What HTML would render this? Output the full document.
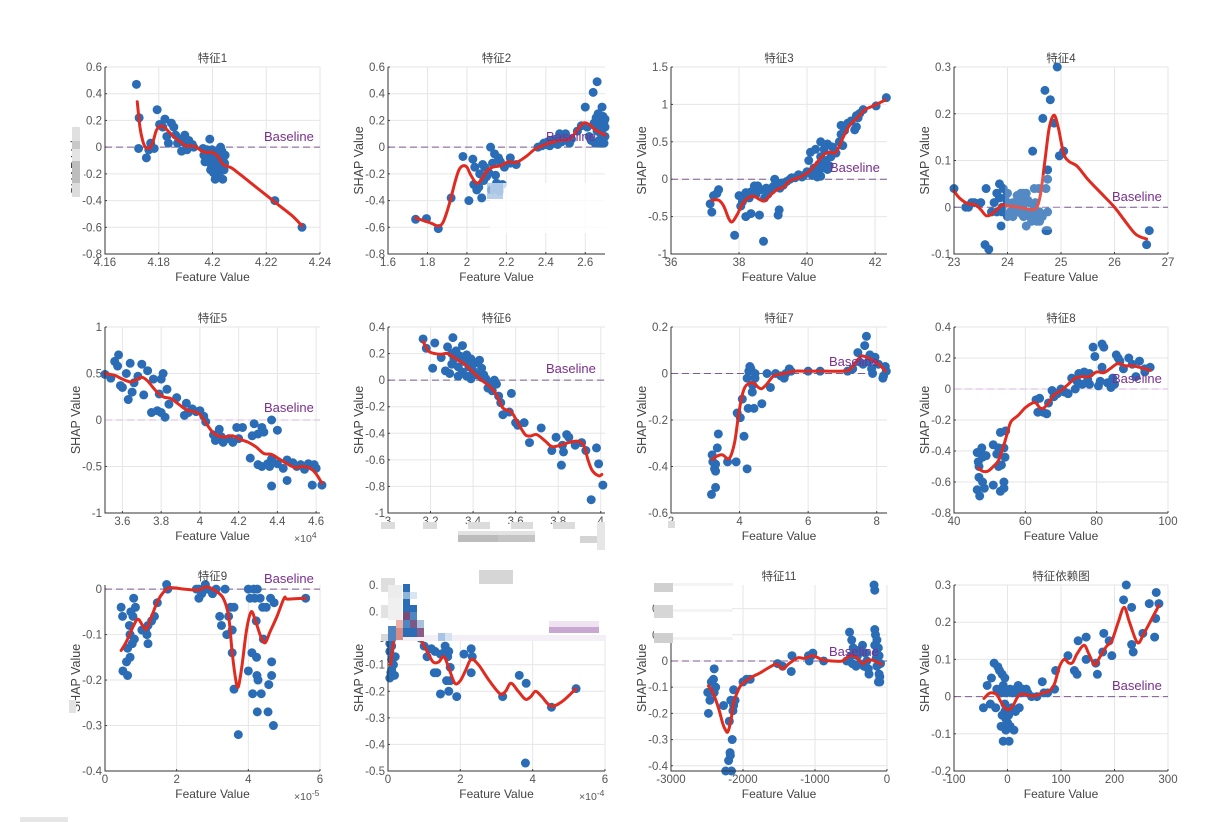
<!DOCTYPE html>
<html lang="zh">
<head>
<meta charset="utf-8">
<title>SHAP dependence plots</title>
<style>
html,body{margin:0;padding:0;background:#fff;width:1222px;height:822px;overflow:hidden}
svg{display:block;filter:blur(.35px)}
text{font-family:"Liberation Sans","Noto Sans CJK SC",sans-serif}
</style>
</head>
<body>
<svg id="figure" xmlns="http://www.w3.org/2000/svg" width="1222" height="822" viewBox="0 0 1222 822"></svg>
<script>
// ---- data ----
const titles = ['特征1','特征2','特征3','特征4','特征5','特征6','特征7','特征8','特征9','特征10','特征11','特征依赖图'];
const xDomains = [[4.16,4.24],[1.6,2.7],[36,42.35],[23,27],[3.51,4.62],[3,4.02],[2,8.3],[40,100],[0,6],[0,6],[-3000,0],[-100,300]];
const yDomains = [[-0.8,0.6],[-0.8,0.6],[-1,1.5],[-0.1,0.3],[-1,1],[-1,0.4],[-0.6,0.2],[-0.8,0.4],[-0.4,0.009],[-0.5,0.2],[-0.42,0.29],[-0.2,0.3]];
const xTicks = [
 ['4.16','4.18','4.2','4.22','4.24'],['1.6','1.8','2','2.2','2.4','2.6'],['36','38','40','42'],['23','24','25','26','27'],
 ['3.6','3.8','4','4.2','4.4','4.6'],['3','3.2','3.4','3.6','3.8','4'],['2','4','6','8'],['40','60','80','100'],
 ['0','2','4','6'],['0','2','4','6'],['-3000','-2000','-1000','0'],['-100','0','100','200','300']];
const yTicks = [
 ['-0.8','-0.6','-0.4','-0.2','0','0.2','0.4','0.6'],['-0.8','-0.6','-0.4','-0.2','0','0.2','0.4','0.6'],['-1','-0.5','0','0.5','1','1.5'],['-0.1','0','0.1','0.2','0.3'],
 ['-1','-0.5','0','0.5','1'],['-1','-0.8','-0.6','-0.4','-0.2','0','0.2','0.4'],['-0.6','-0.4','-0.2','0','0.2'],['-0.8','-0.6','-0.4','-0.2','0','0.2','0.4'],
 ['-0.4','-0.3','-0.2','-0.1','0'],['-0.5','-0.4','-0.3','-0.2','-0.1','0','0.1','0.2'],['-0.4','-0.3','-0.2','-0.1','0','0.1','0.2'],['-0.2','-0.1','0','0.1','0.2','0.3']];
const exponents = ['','','','','4','','','','-5','-4','',''];
const baselineValue = 0;

const x1 = [4.1717,4.1727,4.1725,4.1754,4.1763,4.1770,4.1783,4.1794,4.1803,4.1815,
 4.1823,4.1830,4.1836,4.1847,4.1856,4.1863,4.1870,4.1878,4.1885,4.1890,
 4.1897,4.1900,4.1905,4.1912,4.1925,4.1930,4.1965,4.1968,4.1972,4.1975,
 4.1980,4.1985,4.1988,4.1990,4.1993,4.1995,4.1998,4.2000,4.2003,4.2005,
 4.2008,4.2010,4.2012,4.2015,4.2017,4.2020,4.2022,4.2025,4.2028,4.2030,
 4.2033,4.2035,4.2038,4.2040,4.2043,4.2045,4.2047,4.2232,4.2333];
const y1 = [.47,.22,-.01,-.08,-.02,.03,-.01,.28,.17,.15,
 .21,.08,.03,.18,.15,.09,.03,.06,-.03,.04,
 .09,.03,-.02,.05,.02,.00,-.01,-.06,-.11,-.03,
 -.02,-.09,-.05,.06,-.17,-.13,-.02,-.08,-.19,-.11,
 -.03,-.24,-.15,-.07,-.18,-.12,-.05,-.21,-.10,.00,
 -.15,-.03,-.24,-.08,-.17,-.12,-.06,-.40,-.60];
const cx1 = [4.172,4.173,4.174,4.175,4.176,4.177,4.178,4.179,4.180,4.181,4.1825,4.184,4.186,4.188,4.190,4.192,4.194,4.196,4.198,4.200,4.202,4.204,4.207,4.21,4.215,4.22,4.225,4.23,4.2333];
const cy1 = [.34,.15,.05,0,-.01,0,.05,.12,.15,.16,.14,.11,.07,.04,.01,.01,0,-.03,-.04,-.04,-.07,-.13,-.155,-.2,-.28,-.36,-.44,-.52,-.59];

const x2 = [1.74,1.795,1.855,1.92,1.98,2.01,2.03,2.035,2.04,2.05,
 2.06,2.065,2.075,2.08,2.085,2.09,2.1,2.11,2.12,2.125,
 2.13,2.14,2.145,2.15,2.16,2.165,2.17,2.18,2.19,2.22,
 2.22,2.25,2.36,2.38,2.39,2.4,2.41,2.42,2.43,2.44,
 2.45,2.46,2.47,2.48,2.49,2.5,2.51,2.52,2.53,2.56,
 2.58,2.6,2.61,2.62,2.63,2.64,2.645,2.65,2.655,2.66,
 2.66,2.665,2.67,2.67,2.675,2.68,2.68,2.685,2.69,2.69,
 2.695,2.695,2.7,2.7,2.7];
const y2 = [-.54,-.535,-.61,-.38,-.07,-.40,-.09,-.28,-.15,-.32,
 -.30,-.20,-.38,-.13,-.25,-.15,-.22,-.19,0,-.32,
 -.12,-.05,-.21,-.27,-.08,-.33,-.11,-.28,-.15,-.08,
 -.12,-.13,0,.01,.03,.02,.04,.01,.05,.03,
 .06,.02,.1,.04,.08,.1,.05,.03,.06,.12,
 .16,.3,.15,.08,.05,.41,.18,.03,.22,.49,
 .12,.25,.05,.16,.2,.03,.1,.3,.14,.23,
 .03,.19,.08,.15,.21];
const cx2 = [1.74,1.78,1.82,1.855,1.88,1.91,1.94,1.96,1.98,2.0,2.02,2.05,2.08,2.1,2.13,2.17,2.21,2.25,2.3,2.34,2.38,2.42,2.47,2.52,2.56,2.59,2.62,2.65,2.7];
const cy2 = [-.53,-.55,-.57,-.59,-.56,-.43,-.26,-.17,-.14,-.15,-.21,-.27,-.23,-.18,-.15,-.14,-.11,-.115,-.07,-.02,.01,.03,.05,.06,.13,.18,.17,.13,.09];

const x3 = [37.15,37.2,37.25,37.35,37.4,37.87,38.0,38.05,38.1,38.15,
 38.2,38.2,38.3,38.35,38.35,38.45,38.5,38.55,38.6,38.65,
 38.72,38.75,38.8,38.85,38.95,39.0,39.05,39.1,39.15,39.18,
 39.2,39.25,39.3,39.4,39.5,39.55,39.65,39.75,39.85,39.9,
 40,40.05,40.1,40.15,40.2,40.25,40.3,40.3,40.35,40.4,
 40.4,40.4,40.45,40.5,40.55,40.6,40.6,40.65,40.7,40.75,
 40.85,40.95,41.0,41,41.05,41.1,41.2,41.3,41.4,41.45,
 41.45,41.5,41.55,41.65,42.03,42.33];
const y3 = [-.33,-.44,-.22,-.19,-.14,-.75,-.22,-.36,-.3,-.22,
 -.18,-.5,-.25,-.46,-.17,-.09,-.2,-.09,-.48,-.14,
 -.83,-.25,-.12,-.2,-.15,-.1,0,-.05,-.48,-.41,
 -.12,-.05,-.08,-.03,0,.02,.02,.06,.03,.05,
 .1,.25,.36,.05,.15,.4,.03,.1,.2,.3,
 .04,.5,.15,.4,.25,.13,.47,.18,.3,.43,
 .35,.5,.72,.6,.45,.65,.75,.78,.66,.85,
 .7,.82,.88,.93,.98,1.09];
const cx3 = [37.2,37.4,37.55,37.7,37.8,37.95,38.1,38.3,38.45,38.6,38.75,38.95,39.15,39.3,39.5,39.8,40.05,40.25,40.5,40.65,40.85,41.05,41.25,41.5,41.7,41.95,42.3];
const cy3 = [-.28,-.28,-.36,-.53,-.57,-.47,-.33,-.24,-.23,-.27,-.29,-.2,-.13,-.11,-.02,.03,.1,.2,.33,.36,.36,.55,.72,.83,.93,.98,1.06];

const x4 = [23.0,23.22,23.27,23.33,23.38,23.5,23.58,23.65,23.6,23.7,
 23.75,23.8,23.85,23.88,23.92,23.9,23.95,24.0,24.0,24.05,
 24.1,24.15,24.2,24.25,24.3,24.33,24.35,24.35,24.4,24.42,
 24.45,24.5,24.5,24.55,24.58,24.6,24.65,24.66,24.7,24.72,
 24.72,24.75,24.75,24.75,24.75,24.8,24.87,24.93,24.97,25.05,
 24.47,26.6,26.65,
 23.85,23.9,23.8,24.0,24.05,24.1,24.12,24.2,24.25,24.27,
 24.3,24.32,24.38,24.45,24.5,24.52,24.6,24.28,24.38,24.18];
const y4 = [.04,0,0,.01,.01,.01,-.08,-.09,.04,-.01,
 .01,.03,.05,-.04,.04,0,.02,-.02,.01,-.01,
 .01,-.01,.02,.03,-.02,.01,.03,-.04,.01,-.02,
 -.01,.04,0,-.03,.04,-.01,-.02,.19,.25,.04,
 -.05,-.05,.08,.06,-.01,.23,.18,.3,.11,.12,
 .12,-.08,-.05,
 .02,-.01,-.01,.03,-.015,-.02,0,-.01,.01,-.015,
 .03,.02,.015,-.03,-.015,.01,-.03,0,-.01,.025];
const cx4 = [23,23.1,23.25,23.4,23.5,23.6,23.7,23.8,23.9,24.0,24.15,24.3,24.45,24.55,24.62,24.7,24.78,24.87,24.95,25.05,25.15,25.3,25.5,25.75,26,26.2,26.4,26.6];
const cy4 = [.035,.02,.008,.005,-.005,-.018,-.015,-.005,.005,.003,.001,-.002,-.005,0,.03,.1,.17,.197,.17,.115,.098,.088,.06,.03,0,-.03,-.058,-.068];

const x5 = [3.51,3.54,3.56,3.575,3.58,3.59,3.6,3.62,3.63,3.64,
 3.65,3.66,3.68,3.7,3.71,3.73,3.75,3.76,3.78,3.79,
 3.8,3.8,3.81,3.82,3.83,3.84,3.88,3.92,3.93,3.94,
 3.96,3.98,4.0,4.02,4.03,4.07,4.08,4.1,4.11,4.12,
 4.15,4.17,4.19,4.2,4.22,4.26,4.27,4.28,4.3,4.3,
 4.32,4.32,4.33,4.35,4.36,4.37,4.37,4.37,4.4,4.4,
 4.43,4.45,4.45,4.48,4.5,4.52,4.54,4.56,4.58,4.58,
 4.6,4.63,4.59];
const y5 = [.49,.45,.63,.58,.7,.37,.35,.5,.22,.61,
 .3,.4,.47,.6,.27,.53,.08,.44,.1,.28,
 .44,.08,.5,.03,.33,.17,.24,.05,.18,.08,
 .12,.09,.1,.04,-.02,-.16,-.22,-.1,-.18,-.24,
 -.2,-.24,-.08,-.2,-.08,-.41,-.17,-.04,-.48,-.15,
 -.5,-.08,-.13,-.47,-.5,-.42,0,-.71,-.47,-.11,
 -.52,-.43,-.65,-.46,-.5,-.48,-.53,-.47,-.5,-.7,
 -.52,-.7,-.48];
const cx5 = [3.51,3.56,3.6,3.64,3.67,3.7,3.73,3.77,3.81,3.85,3.89,3.93,3.97,4.0,4.03,4.07,4.11,4.14,4.17,4.21,4.25,4.29,4.33,4.37,4.41,4.45,4.49,4.53,4.57,4.6,4.63];
const cy5 = [.5,.48,.44,.41,.43,.46,.42,.32,.25,.23,.17,.11,.09,.06,-.03,-.14,-.18,-.18,-.17,-.21,-.24,-.29,-.36,-.37,-.42,-.47,-.51,-.5,-.52,-.58,-.68];

const x6 = [3.165,3.18,3.21,3.22,3.25,3.27,3.28,3.29,3.3,3.3,
 3.305,3.31,3.32,3.33,3.33,3.34,3.35,3.35,3.36,3.37,
 3.37,3.38,3.39,3.39,3.4,3.41,3.42,3.43,3.44,3.44,
 3.45,3.46,3.47,3.48,3.49,3.5,3.51,3.52,3.53,3.54,
 3.58,3.57,3.6,3.61,3.64,3.665,3.72,3.77,3.79,3.815,
 3.82,3.825,3.84,3.85,3.88,3.91,3.93,3.955,3.98,3.99,4.01];
const y6 = [.31,.24,.09,.28,.17,.07,.25,.05,.2,.12,
 .32,.16,.22,.03,.1,.18,.26,.06,.14,.19,
 .03,.1,.01,.16,.07,.13,.04,.15,.02,.09,
 .04,.01,-.06,-.02,-.08,0,-.03,-.12,-.17,-.26,
 -.1,-.24,-.32,-.34,-.32,-.47,-.36,-.53,-.43,-.64,
 -.49,-.54,-.41,-.43,-.49,-.47,-.53,-.9,-.51,-.63,-.79];
const cx6 = [3.165,3.19,3.22,3.25,3.28,3.32,3.36,3.4,3.44,3.48,3.51,3.54,3.58,3.61,3.645,3.67,3.7,3.74,3.77,3.81,3.85,3.89,3.92,3.94,3.96,3.99,4.005];
const cy6 = [.29,.22,.2,.195,.2,.16,.12,.06,0,-.05,-.11,-.21,-.24,-.32,-.41,-.42,-.41,-.46,-.5,-.49,-.47,-.46,-.49,-.6,-.68,-.72,-.71];

const x7 = [3.18,3.2,3.22,3.27,3.3,3.3,3.3,3.35,3.38,3.65,
 3.9,3.93,4.02,4.08,4.13,4.22,4.22,4.25,4.27,4.3,
 4.33,4.37,4.38,4.42,4.45,4.45,4.65,4.8,4.9,5.05,
 5.2,5.3,5.35,5.45,5.5,6.0,6.35,7.15,7.3,7.45,
 7.5,7.6,7.65,7.7,7.75,7.8,7.85,7.88,7.95,8.05,
 8.18,8.2,8.25,8.28];
const y7 = [-.52,-.35,-.38,-.41,-.42,-.39,-.49,-.32,-.26,-.38,
 -.38,-.17,-.19,-.11,-.27,-.41,-.02,-.15,.01,.03,
 .02,-.08,-.05,-.15,0,-.02,-.13,0,-.06,0,
 -.01,-.02,0,.02,.01,.01,.01,.01,.02,.09,
 .05,.04,.12,.16,.05,.08,.02,0,.07,.04,
 -.02,-.01,.03,.01];
const cx7 = [3.2,3.35,3.5,3.7,3.85,3.95,4.05,4.15,4.25,4.35,4.45,4.55,4.65,4.8,5.0,5.3,5.6,6,6.5,7.0,7.2,7.4,7.55,7.7,7.9,8.1,8.25];
const cy7 = [-.37,-.355,-.35,-.365,-.3,-.2,-.11,-.06,-.045,-.04,-.045,-.06,-.065,-.045,-.01,0,.01,.01,.01,.01,.015,.05,.075,.07,.055,.035,.01];

const x8 = [46.5,46.8,46.5,47,47,47.2,47.5,47.8,48,48,
 48.5,49,51,51,52,52.5,52.5,53,53,53.3,
 54,54,54,54.3,54.5,63,63.5,64,65,66,
 66.5,67.5,68,69,70,71,72,73,74,74.5,
 75,76,76.5,77.5,78,78,79,79.5,80.5,81,
 81.5,81.5,82,83,84,84.5,85,85.5,86,86.5,
 87.5,89,90,91,92,93.5,93.5,95];
const y8 = [-.41,-.47,-.65,-.57,-.5,-.69,-.4,-.38,-.6,-.44,
 -.64,-.43,-.36,-.62,-.42,-.5,-.38,-.28,-.66,-.49,
 -.6,-.64,-.38,-.44,-.27,-.07,-.15,-.06,-.15,-.16,
 -.09,-.01,-.05,-.03,0,-.02,-.03,.07,0,.05,
 .1,.03,.11,.06,.1,.03,.27,.21,.02,.05,
 .14,.29,.27,.04,.01,.07,.03,.22,.2,.18,
 .13,.2,.16,.08,.18,.13,.11,.14];
const cx8 = [46.8,48,49.5,51,52.5,54,55,56,58,60,62,63,64,65,66.5,68,70,72,74,76,78,80,82,84,86,88,90,92,95];
const cy8 = [-.51,-.53,-.53,-.5,-.46,-.36,-.28,-.21,-.17,-.12,-.09,-.09,-.12,-.125,-.09,-.04,-.01,.03,.07,.08,.08,.11,.105,.135,.165,.15,.15,.14,.12];

const x9 = [.45,.49,.5,.6,.63,.63,.7,.68,.7,.72,
 .76,.78,.8,.82,.85,1.03,1.13,1.17,1.2,1.2,
 1.3,1.38,1.46,1.72,1.75,2.55,2.62,2.62,2.7,2.8,
 2.85,3.0,3.1,3.35,3.2,3.25,3.4,3.45,3.5,3.55,
 3.55,3.6,3.6,3.72,4.0,4.0,4.05,4.1,4.12,4.15,
 4.18,4.22,4.23,4.24,4.25,4.25,4.27,4.33,4.36,4.4,
 4.42,4.5,4.55,4.57,4.62,4.65,4.65,4.7,4.72,5.6];
const y9 = [-.04,-.06,-.18,-.16,-.13,-.19,-.15,-.08,-.1,-.05,
 -.12,-.06,-.02,-.11,-.04,-.09,-.09,-.1,-.12,-.08,
 -.07,-.06,-.03,.01,0,0,0,-.02,-.01,.01,
 0,-.01,0,0,-.06,-.08,-.1,-.06,-.04,-.09,
 -.14,-.04,-.22,-.32,0,-.18,-.02,-.14,-.23,0,
 -.02,-.07,-.15,-.19,0,-.27,-.2,-.02,-.23,-.04,
 -.11,-.04,-.27,-.21,-.02,-.16,-.19,-.3,-.03,-.02];
const cx9 = [.45,.6,.8,.92,1.05,1.15,1.3,1.45,1.6,1.8,2.2,2.6,2.85,3.1,3.3,3.45,3.55,3.65,3.72,3.82,3.95,4.08,4.2,4.35,4.47,4.6,4.8,5,5.1,5.6];
const cy9 = [-.135,-.115,-.08,-.066,-.08,-.088,-.06,-.03,-.01,.003,0,-.002,.005,-.005,-.02,-.06,-.14,-.2,-.215,-.17,-.09,-.05,-.07,-.105,-.118,-.095,-.06,-.02,-.022,-.02];

const x10 = [.05,.08,.1,.12,.1,.05,.15,.18,.2,.05,
 .1,.1,.15,.48,.48,.48,.48,.7,.7,.7,
 .9,1.0,1.08,1.2,1.28,1.3,1.35,1.45,1.45,1.58,
 1.58,1.62,1.65,1.68,1.68,1.72,1.72,1.9,2.1,2.3,
 2.3,2.33,3.17,3.63,3.8,3.82,4.52,5.2];
const y10 = [-.15,-.13,-.12,-.14,-.08,-.05,-.1,-.14,-.07,-.02,
 -.03,0,.03,.2,.1,.06,.02,.09,.04,.01,
 0,-.03,-.07,-.04,-.13,-.05,-.13,-.06,-.21,-.03,
 -.05,-.16,-.07,-.2,-.05,-.16,-.11,-.22,-.06,-.04,
 -.13,-.07,-.22,-.14,-.47,-.17,-.26,-.19];
const cx10 = [.07,.12,.18,.3,.48,.65,.85,1.0,1.12,1.25,1.4,1.55,1.7,1.85,2.0,2.15,2.3,2.5,2.8,3.1,3.25,3.4,3.6,3.8,3.95,4.08,4.25,4.5,4.8,5.2];
const cy10 = [-.1,-.05,0,.05,.09,.06,.01,-.03,-.06,-.09,-.09,-.07,-.12,-.17,-.16,-.12,-.08,-.1,-.16,-.21,-.2,-.17,-.2,-.23,-.22,-.2,-.22,-.255,-.24,-.19];

const x11 = [-2490,-2480,-2460,-2440,-2410,-2400,-2380,-2400,-2270,-2240,
 -2190,-2200,-2180,-2175,-2160,-2150,-2170,-2140,-2130,-2130,
 -2110,-2000,-1950,-1900,-1520,-1450,-1320,-1330,-1090,-1080,
 -1050,-1030,-880,-560,-520,-500,-490,-480,-470,-450,
 -430,-410,-400,-380,-340,-320,-300,-280,-260,-250,
 -180,-170,-170,-170,-160,-150,-150,-140,-140,-120,
 -120,-110,-110,-100,-100,-90];
const y11 = [-.12,-.2,-.15,-.08,-.07,-.03,-.1,-.12,-.17,-.42,
 -.23,-.38,-.35,-.36,-.42,-.3,-.15,-.19,-.17,-.11,
 -.15,-.08,-.07,-.07,-.01,-.02,.02,-.04,.02,0,
 .02,.03,0,0,.11,.02,.08,-.01,.05,.03,
 -.02,.02,.04,-.01,.06,-.02,.03,0,-.03,-.05,
 .29,.27,.12,.06,.1,.03,.01,.08,-.02,.05,
 -.08,.02,-.05,-.06,-.08,-.01];
const cx11 = [-2480,-2420,-2340,-2280,-2240,-2210,-2170,-2130,-2080,-2020,-1900,-1760,-1640,-1530,-1450,-1360,-1240,-1150,-1030,-900,-760,-620,-520,-430,-340,-270,-200,-130,-80];
const cy11 = [-.095,-.12,-.18,-.24,-.265,-.27,-.23,-.16,-.12,-.09,-.065,-.045,-.025,-.012,-.03,-.01,.012,.01,.02,.005,0,0,.02,.015,-.01,.003,.003,-.005,-.012];

const x12 = [-45,-38,-32,-30,-25,-22,-20,-18,-15,-12,
 -10,-8,-5,-5,-3,-2,-10,-12,-8,-5,
 -3,0,0,2,3,5,5,8,10,12,
 15,15,18,20,22,25,28,35,38,45,
 55,65,68,75,88,90,113,125,130,132,
 147,147,165,168,178,180,190,195,217,222,
 232,232,235,253,265,275,277,278,283];
const y12 = [-.03,.03,-.02,.05,.09,-.03,.02,.08,.07,.01,
 .06,.03,.05,-.04,-.06,.01,-.05,-.08,-.12,-.02,
 -.09,-.07,-.04,-.05,-.12,.02,-.08,-.03,.01,-.09,
 .02,-.04,.01,.03,-.03,.01,.02,.02,.01,0,
 0,.04,.01,.01,.02,.07,.11,.07,.06,.15,
 .1,.16,.09,.06,.12,.17,.15,.11,.26,.3,
 .14,.24,.12,.17,.25,.16,.21,.28,.25];
const cx12 = [-44,-35,-28,-20,-12,-5,0,6,12,18,25,35,45,55,65,78,88,97,106,115,122,130,143,152,163,172,185,195,207,218,228,243,255,270,283];
const cy12 = [-.005,.008,.01,.005,-.015,-.03,-.035,-.032,-.02,-.003,.007,.005,.002,.003,.01,.015,.035,.08,.1,.09,.092,.115,.138,.115,.085,.105,.135,.15,.2,.24,.2,.145,.17,.21,.245];

const pointX = [x1,x2,x3,x4,x5,x6,x7,x8,x9,x10,x11,x12];
const pointY = [y1,y2,y3,y4,y5,y6,y7,y8,y9,y10,y11,y12];
const curveX = [cx1,cx2,cx3,cx4,cx5,cx6,cx7,cx8,cx9,cx10,cx11,cx12];
const curveY = [cy1,cy2,cy3,cy4,cy5,cy6,cy7,cy8,cy9,cy10,cy11,cy12];

// ---- layout ----
const NS = 'http://www.w3.org/2000/svg';
const root = document.getElementById('figure');
const colEdges = [[105,320],[388,605],[671,887],[954,1168]];
const rowEdges = [[67,254],[327,513],[585,771]];
const baselineAnchors = [[264,141],[546,141],[830,172],[1112,201],[264,412],[546,373],[829,366],[1112,383],[264,583],null,[829,656],[1112,690]];
const paleBaseline = {4:true,7:true};

function make(tag, attrs, parent, txt){
  const el = document.createElementNS(NS, tag);
  for (const k in attrs) el.setAttribute(k, attrs[k]);
  if (txt !== undefined) el.textContent = txt;
  parent.appendChild(el);
  return el;
}
function scale(domain, range){
  return v => range[0] + (v - domain[0]) / (domain[1] - domain[0]) * (range[1] - range[0]);
}
function smoothPath(pts){
  let d = 'M' + pts[0][0].toFixed(2) + ' ' + pts[0][1].toFixed(2);
  for (let i = 0; i < pts.length - 1; i++){
    const p0 = pts[Math.max(i-1,0)], p1 = pts[i], p2 = pts[i+1], p3 = pts[Math.min(i+2,pts.length-1)];
    d += ' C' + (p1[0]+(p2[0]-p0[0])/6).toFixed(2) + ' ' + (p1[1]+(p2[1]-p0[1])/6).toFixed(2) + ' ' +
         (p2[0]-(p3[0]-p1[0])/6).toFixed(2) + ' ' + (p2[1]-(p3[1]-p1[1])/6).toFixed(2) + ' ' +
         p2[0].toFixed(2) + ' ' + p2[1].toFixed(2);
  }
  return d;
}

titles.forEach((title, i) => {
  const c = colEdges[i % 4], r = rowEdges[Math.floor(i / 4)];
  const sx = scale(xDomains[i], c);
  const sy = scale(yDomains[i], [r[1], r[0]]);
  const g = make('g', {}, root);
  
  

  xTicks[i].forEach(t => {
    const v = parseFloat(t), px = sx(v);
    const line = make('line', {x1:px, x2:px, y1:r[0], y2:r[1], stroke:'#e6e6e6', 'stroke-width':1}, g);
    
    
    const tick = make('line', {x1:px, x2:px, y1:r[1], y2:r[1]-2, stroke:'#444', 'stroke-width':1}, g);
    
    
    const lab = make('text', {x:px, y:r[1]+12, 'text-anchor':'middle', 'font-size':11.5, fill:'#555'}, g, t);
    
    
  });
  yTicks[i].forEach(t => {
    const v = parseFloat(t), py = sy(v);
    const line = make('line', {x1:c[0], x2:c[1], y1:py, y2:py, stroke:'#e6e6e6', 'stroke-width':1}, g);
    
    
    const tick = make('line', {x1:c[0], x2:c[0]+2, y1:py, y2:py, stroke:'#444', 'stroke-width':1}, g);
    
    
    const lab = make('text', {x:c[0]-3, y:py+4, 'text-anchor':'end', 'font-size':11.5, fill:'#555'}, g, t);
    
    
  });

  const pale = paleBaseline[i];
  const base = make('line', {x1:c[0], x2:c[1], y1:sy(baselineValue), y2:sy(baselineValue),
    stroke: pale ? '#e6cfe9' : '#7d5a90', 'stroke-width': pale ? 1.4 : 1, 'stroke-dasharray':'7 4'}, g);
  
  

  const n = Math.min(pointX[i].length, pointY[i].length);
  for (let k = 0; k < n; k++){
    const dot = make('circle', {cx:sx(pointX[i][k]).toFixed(2), cy:sy(pointY[i][k]).toFixed(2), r:4.5, fill:'#2a6cb5'}, g);
    
    
  }

  const pts = curveX[i].map((v, k) => [sx(v), sy(curveY[i][k])]);
  const curve = make('path', {d:smoothPath(pts), fill:'none', stroke:'#e02b20', 'stroke-width':3, 'stroke-linecap':'round', 'stroke-linejoin':'round'}, g);
  
  

  if (baselineAnchors[i]){
    const bl = make('text', {x:baselineAnchors[i][0], y:baselineAnchors[i][1], 'font-size':13, fill:'#7b2f8f'}, g, 'Baseline');
    
    
  }

  const ax = make('path', {d:'M'+c[0]+' '+r[0]+' V'+r[1]+' H'+c[1], fill:'none', stroke:'#333', 'stroke-width':1}, g);
  
  

  const tt = make('text', {x:(c[0]+c[1])/2, y:r[0]-5, 'text-anchor':'middle', 'font-size':11.5, fill:'#444'}, g, title);
  
  
  const xl = make('text', {x:(c[0]+c[1])/2, y:r[1]+27, 'text-anchor':'middle', 'font-size':12, fill:'#444'}, g, 'Feature Value');
  
  
  const ylx = c[0] - 25, yly = (r[0]+r[1])/2;
  const yl = make('text', {x:ylx, y:yly, 'text-anchor':'middle', 'font-size':12.5, fill:'#444', transform:'rotate(-90 '+ylx+' '+yly+')'}, g, 'SHAP Value');
  
  

  if (exponents[i]){
    const ex = make('text', {x:c[1]-26, y:r[1]+29, 'font-size':10.5, fill:'#555'}, g, '×10');
    
    
    const sup = make('tspan', {dy:-4, 'font-size':8.5}, ex, exponents[i]);
    
    
  }
});

// ---- redaction mosaics that sit on top of the figure ----
const overlay = make('g', {}, root);


[
 // feature 1 y-label
 [72,127,12,72,'#fff',1],[72,127,8,14,'#e0e0e0',1],[72,141,8,8,'#c8c8c8',1],[72,149,8,12,'#e4e4e4',1],[72,161,8,22,'#bdbdbd',1],[72,183,8,14,'#dcdcdc',1],
 // feature 2 lower right wash
 [490,183,115,50,'#fff',.78],[487,183,16,16,'#9fbfe2',.75],
 // feature 4 watermark wash
 [1005,175,60,55,'#fff',.2],
 // feature 6 tick labels and x title
 [380,524,230,24,'#fff',1],[381,522,14,7,'#dcdcdc',1],[423,522,14,7,'#dcdcdc',1],[468,522,22,7,'#dcdcdc',1],[511,522,22,7,'#dcdcdc',1],[553,522,22,7,'#dcdcdc',1],
 [458,531,77,4,'#e2e2e2',1],[458,535,40,7,'#bcbcbc',1],[498,535,37,7,'#c4c4c4',1],[580,536,22,7,'#d4d4d4',1],[597,522,8,28,'#e6e6e6',1],
 // feature 7 tick
 [668,521,7,7,'#dcdcdc',1],
 // feature 9 y-label
 [69,700,7,13,'#e2e2e2',1],
 // feature 10 top
 [378,566,232,75,'#fff',1],[479,570,34,14,'#d6d6d6',1],[381,578,14,14,'#dedede',1],[388,585,14,14,'#ececec',1],[381,605,14,13,'#e2e2e2',1],[388,598,14,22,'#f0f0f0',1],[381,634,10,7,'#d8d8d8',1],
 [396,635,210,6,'#f4eef6',1],
 [403,584,7,8,'#2a6cb5',1],[403,592,7,7,'#8fb4dc',1],[410,592,7,7,'#d8e6f4',1],[403,599,7,14,'#2a6cb5',1],[410,605,7,8,'#2a6cb5',1],
 [403,612,7,8,'#7a4a78',1],[410,612,7,8,'#4f86c2',1],[403,620,7,8,'#4f86c2',1],[410,620,7,8,'#7a5a84',1],[403,628,14,9,'#2a6cb5',1],
 [417,620,7,8,'#a8c0dc',1],[417,628,7,9,'#8a5a88',1],[388,626,8,15,'#4f86c2',1],[396,620,7,8,'#eeb0a6',1],[396,628,7,12,'#d88a84',1],
 [438,633,7,8,'#a8c4e4',1],[445,633,7,8,'#d4e2f2',1],[549,621,50,6,'#efe3f2',1],[549,627,50,6,'#c8a8d0',1],
 // feature 11 top-left
 [654,577,78,66,'#fff',1],[654,583,19,9,'#d0d0d0',1],[654,605,19,13,'#d6d6d6',1],[654,633,19,10,'#cfcfcf',1],[673,583,60,3,'#f4f4f4',1],[673,609,60,3,'#f4f4f4',1],[673,637,60,3,'#f4f4f4',1],
 // page bottom-left
 [20,817,48,5,'#e6e6e6',1]
].forEach(v => {
  const block = make('rect', {x:v[0], y:v[1], width:v[2], height:v[3], fill:v[4], opacity:v[5]}, overlay);
  
  
});
</script>
</body>
</html>
